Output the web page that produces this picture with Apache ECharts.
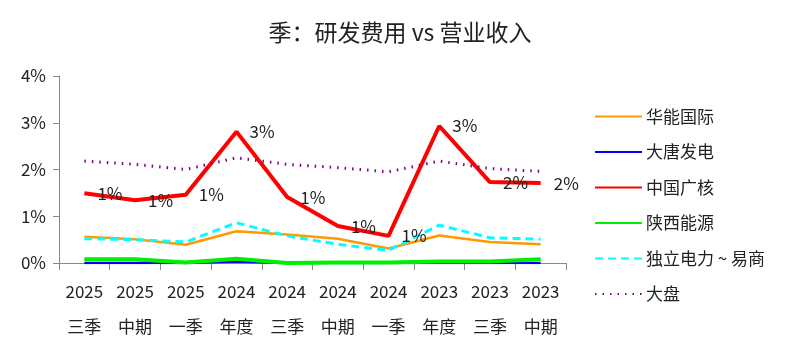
<!DOCTYPE html>
<html><head><meta charset="utf-8">
<script src="https://cdn.jsdelivr.net/npm/echarts@6/dist/echarts.min.js"></script>
<style>html,body{margin:0;padding:0;background:#fff}#c{width:800px;height:353px}</style>
</head><body><div id="c"></div>
<script>
const categories = ['2025\n三季','2025\n中期','2025\n一季','2024\n年度','2024\n三季','2024\n中期','2024\n一季','2023\n年度','2023\n三季','2023\n中期'];
const huaneng = [0.56,0.51,0.39,0.68,0.61,0.52,0.31,0.59,0.45,0.40];
const datang = [0.00,0.00,0.00,0.03,0.00,0.00,0.00,0.00,0.00,0.00];
const cgn = [1.49,1.34,1.46,2.81,1.41,0.79,0.58,2.93,1.73,1.71];
const shaanxi = [0.08,0.08,0.01,0.09,0.00,0.01,0.01,0.03,0.03,0.08];
const indep = [0.52,0.50,0.45,0.86,0.58,0.40,0.27,0.81,0.54,0.51];
const market = [2.18,2.11,2.00,2.25,2.11,2.04,1.95,2.18,2.02,1.96];
const yTicks = [0,1,2,3,4];

const font = '"Noto Sans CJK SC", "Open Sans", sans-serif';
const chart = echarts.init(document.getElementById('c'));
function line(name, data, color, width, type, extra) {
  return Object.assign({
    name, type: 'line', data, symbol: 'none', smooth: false,
    lineStyle: { color, width, type },
    itemStyle: { color }
  }, extra || {});
}
chart.setOption({
  animation: false,
  textStyle: { fontFamily: font },
  title: {
    text: '季：研发费用 vs 营业收入', left: 'center', top: 16,
    textStyle: { fontFamily: font, fontSize: 23, fontWeight: 'normal', color: '#222' }
  },
  grid: { left: 59, right: 234, top: 76, bottom: 90 },
  legend: {
    orient: 'vertical', left: 589, top: 103, itemGap: 18.5, itemWidth: 47, itemHeight: 17,
    itemStyle: { opacity: 0 },
    textStyle: { fontFamily: font, fontSize: 17, color: '#222', padding: [0, 0, 0, -1] },
    data: ['华能国际','大唐发电','中国广核','陕西能源','独立电力 ~ 易商','大盘']
  },
  xAxis: {
    type: 'category', data: categories, boundaryGap: true,
    axisLine: { lineStyle: { color: '#888' } },
    axisTick: { show: true, length: 7, lineStyle: { color: '#888' } },
    axisLabel: { fontFamily: font, fontSize: 17, color: '#222', lineHeight: 35, margin: 11, interval: 0 }
  },
  yAxis: {
    type: 'value', min: yTicks[0], max: yTicks[yTicks.length-1], interval: 1,
    axisLine: { show: true, lineStyle: { color: '#888' } },
    axisTick: { show: true, length: 6, lineStyle: { color: '#888' } },
    splitLine: { show: false },
    axisLabel: { fontFamily: font, fontSize: 17, color: '#222', margin: 13, formatter: v => v + '%' }
  },
  series: [
    line('华能国际', huaneng, '#ff9900', 2.5, 'solid'),
    line('大唐发电', datang, '#0000ff', 2.5, 'solid'),
    line('中国广核', cgn, '#ff0000', 4, 'solid', {
      symbol: 'circle', symbolSize: 0.1, showSymbol: true,
      label: { show: true, position: 'right', distance: 13, fontFamily: font, fontSize: 17, color: '#222',
        formatter: p => Math.round(p.value) + '%' }
    }),
    line('陕西能源', shaanxi, '#00ee00', 4, 'solid'),
    line('独立电力 ~ 易商', indep, '#00ffff', 3, [8, 5]),
    line('大盘', market, '#800080', 3, [1.5, 6])
  ]
});
</script></body></html>
